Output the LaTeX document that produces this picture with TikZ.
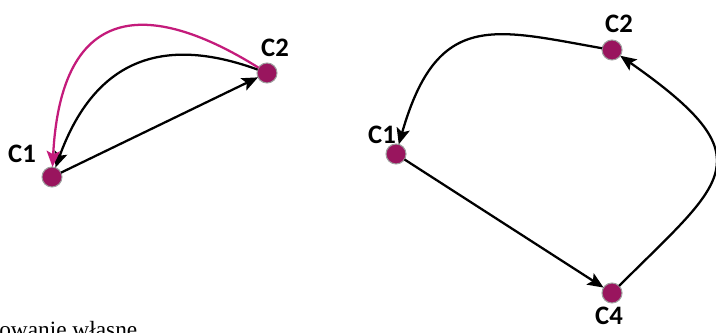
\documentclass[tikz,border=0pt]{standalone}
\usepackage{fontspec}
\newfontfamily\lblfont{Carlito}
\newfontfamily\srcfont{Liberation Serif}
\usetikzlibrary{arrows.meta}
\definecolor{dotpurple}{RGB}{153,21,94}
\definecolor{arcpink}{RGB}{196,27,123}
\begin{document}
\begin{tikzpicture}[x=0.75pt, y=0.75pt,
  stan/.style={circle, fill=dotpurple, draw=gray!75, line width=0.8pt, minimum size=15pt, inner sep=0pt, outer sep=0pt},
  lbl/.style={font=\lblfont\bfseries\fontsize{20}{20}\selectfont, inner sep=0pt},
  przej/.style={line width=1.7pt, -{Stealth[length=12pt, width=10pt, inset=2.5pt]}}]

\useasboundingbox[fill=white] (0,0) rectangle (716,332);

% left graph
\node[stan] (lC1) at (52,155) {};
\node[stan] (lC2) at (267,259) {};
\node[lbl] at (22,178) {C1};
\node[lbl] at (275,284) {C2};

\draw[przej] (lC1) -- (lC2);
\draw[przej] (lC2) .. controls +(160:100) and +(70:135) .. (lC1);
\draw[przej, arcpink] (lC2) .. controls +(148:120) and +(87:190) .. (lC1);

% right graph
\node[stan] (rC1) at (396,178) {};
\node[stan] (rC2) at (612,282) {};
\node[stan] (rC4) at (612,39) {};
\node[lbl] at (382,197) {C1};
\node[lbl] at (619,308) {C2};
\node[lbl] at (609,16) {C4};

\draw[przej] (rC1) -- (rC4);
\draw[przej] (rC2) .. controls +(170:120) and +(74:150) .. (rC1);
\draw[przej] (rC4) .. controls +(45:160) and +(-35:190) .. (rC2);

% source line, cut by the page edge
\node[anchor=base west, inner sep=0pt, font=\srcfont\fontsize{17.5}{17.5}\selectfont] (zrodlo) at (-1,-5) {owanie własne};
\end{tikzpicture}
\end{document}
